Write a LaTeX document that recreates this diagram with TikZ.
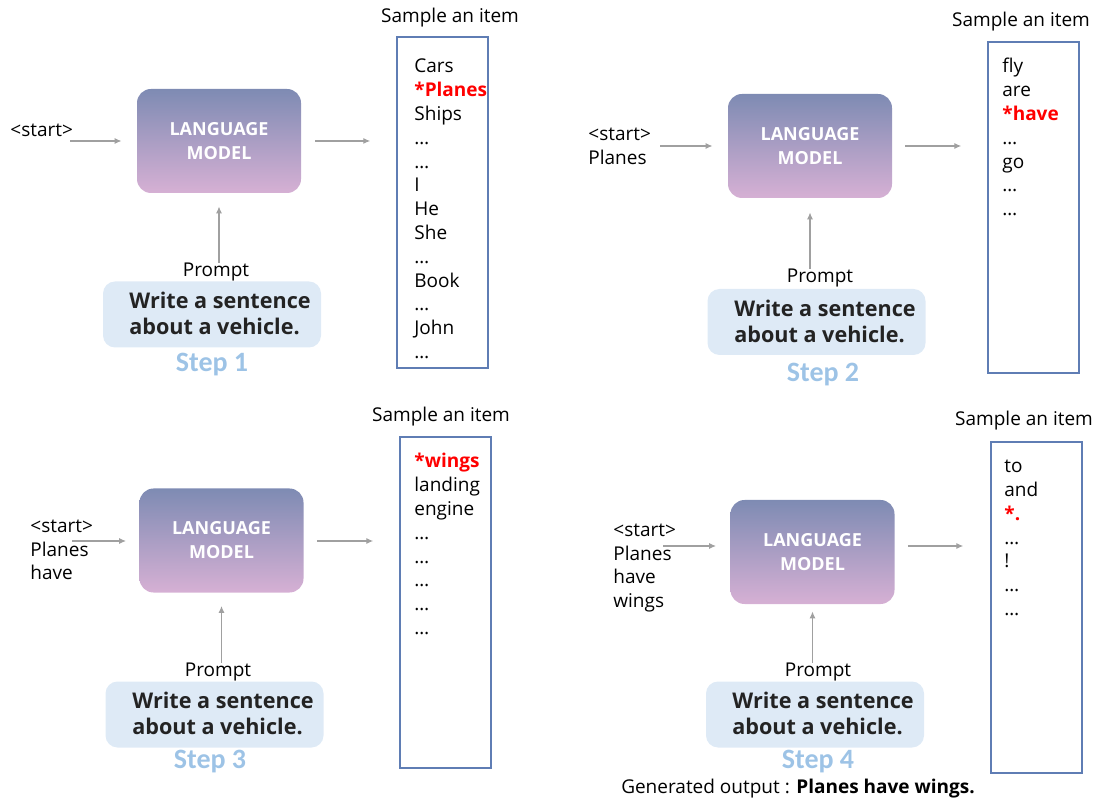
\documentclass[tikz,border=0pt]{standalone}
\usepackage{fontspec}
\setmainfont{Open Sans}
\newfontfamily\stepfont{Carlito}
\usetikzlibrary{arrows.meta,positioning}

\definecolor{lmtop}{RGB}{126,139,179}
\definecolor{lmbot}{RGB}{214,176,212}
\definecolor{promptfill}{RGB}{222,234,246}
\definecolor{promptink}{RGB}{35,35,35}
\definecolor{stepblue}{RGB}{157,195,230}
\definecolor{boxline}{RGB}{95,125,180}
\definecolor{flowgray}{RGB}{160,160,160}
\definecolor{pickred}{RGB}{255,0,0}

\tikzset{
  model/.style={rectangle, rounded corners=7pt, top color=lmtop, bottom color=lmbot,
    minimum width=82pt, minimum height=52pt, text=white, align=center,
    font=\bfseries\fontsize{9}{12}\selectfont},
  promptbox/.style={rectangle, rounded corners=6pt, fill=promptfill, minimum width=109pt,
    minimum height=33pt},
  prompt/.style={inner sep=0pt, align=left, text=promptink,
    font=\bfseries\fontsize{10.8}{13}\selectfont},
  tag/.style={inner sep=0pt, font=\fontsize{9.5}{11.85}\selectfont},
  context/.style={tag, anchor=west, align=left},
  word/.style={tag, anchor=west, text height=1.6ex, text depth=.3ex},
  pick/.style={word, text=pickred, font=\bfseries\fontsize{9.5}{11.85}\selectfont},
  itembox/.style={draw=boxline, line width=0.7pt, minimum width=45.5pt, minimum height=165.5pt},
  steplabel/.style={text=stepblue, font=\stepfont\bfseries\fontsize{14}{16}\selectfont},
  flow/.style={draw=flowgray, line width=0.6pt, -{Latex[length=3.5pt,width=3pt]}},
}

\begin{document}
\begin{tikzpicture}[x=0.5pt, y=-0.5pt]
  \useasboundingbox (0,0) rectangle (1097,801);

  % step 1
  \node[context] (in1) at (10,130) {<start>};
  \coordinate (s1) at (70,141);
  \node[model] (lm1) at (219,141) {LANGUAGE\\MODEL};
  \node[itembox] (box1) at (442.5,202.5) {};
  \node[tag] (head1) at (450,18) {Sample an item};
  \foreach \w/\s [count=\i from 0] in {Cars/word, *Planes/pick, Ships/word, …/word, …/word, I/word, He/word, She/word, …/word, Book/word, …/word, John/word, …/word}
    \node[\s] (w1-\i) at (414, 66+23.8*\i) {\w};
  \node[tag] (lab1) at (216,272) {Prompt};
  \node[promptbox] (pb1) at (212,314.5) {};
  \node[prompt] (p1) at (220,313.5) {Write a sentence\\about a vehicle.};
  \node[steplabel] (step1) at (212,365) {Step 1};
  \draw[flow, shorten >=7.5pt] (s1) -- (s1 -| lm1.west);
  \draw[flow, shorten <=7pt, shorten >=13pt] (lm1.east |- s1) -- (box1.west |- s1);
  \draw[flow, shorten >=6.5pt] (lm1.south |- lab1.north) -- (lm1.south);

  % step 2
  \node[context] (in2) at (588,146.5) {<start>\\Planes};
  \coordinate (s2) at (660,146);
  \node[model] (lm2) at (810,146) {LANGUAGE\\MODEL};
  \node[itembox] (box2) at (1033.5,207.5) {};
  \node[tag] (head2) at (1021,22) {Sample an item};
  \foreach \w/\s [count=\i from 0] in {fly/word, are/word, *have/pick, …/word, go/word, …/word, …/word}
    \node[\s] (w2-\i) at (1002, 66+23.8*\i) {\w};
  \node[tag] (lab2) at (820,278) {Prompt};
  \node[promptbox] (pb2) at (816.5,322) {};
  \node[prompt] (p2) at (825,321) {Write a sentence\\about a vehicle.};
  \node[steplabel] (step2) at (823,375) {Step 2};
  \draw[flow, shorten >=7.5pt] (s2) -- (s2 -| lm2.west);
  \draw[flow, shorten <=6.5pt, shorten >=13pt] (lm2.east |- s2) -- (box2.west |- s2);
  \draw[flow, shorten >=7pt] (lm2.south |- lab2.north) -- (lm2.south);

  % step 3
  \node[context] (in3) at (30,550) {<start>\\Planes\\have};
  \coordinate (s3) at (72,541);
  \node[model] (lm3) at (221.5,540.5) {LANGUAGE\\MODEL};
  \node[itembox] (box3) at (445.5,602.5) {};
  \node[tag] (head3) at (441,417) {Sample an item};
  \foreach \w/\s [count=\i from 0] in {*wings/pick, landing/word, engine/word, …/word, …/word, …/word, …/word, …/word}
    \node[\s] (w3-\i) at (414, 461+23.8*\i) {\w};
  \node[tag] (lab3) at (218,672) {Prompt};
  \node[promptbox] (pb3) at (214.5,714.5) {};
  \node[prompt] (p3) at (223,713.5) {Write a sentence\\about a vehicle.};
  \node[steplabel] (step3) at (210,762) {Step 3};
  \draw[flow, shorten >=6.5pt] (s3) -- (s3 -| lm3.west);
  \draw[flow, shorten <=6.5pt, shorten >=13pt] (lm3.east |- s3) -- (box3.west |- s3);
  \draw[flow, shorten >=6.5pt] (lm3.south |- lab3.north) -- (lm3.south);

  % step 4
  \node[context] (in4) at (613,568) {<start>\\Planes\\have\\wings};
  \coordinate (s4) at (663,546);
  \node[model] (lm4) at (812.5,552) {LANGUAGE\\MODEL};
  \node[itembox] (box4) at (1036.5,607.5) {};
  \node[tag] (head4) at (1024,421) {Sample an item};
  \foreach \w/\s [count=\i from 0] in {to/word, and/word, *./pick, …/word, !/word, …/word, …/word}
    \node[\s] (w4-\i) at (1004, 466+23.7*\i) {\w};
  \node[tag] (lab4) at (818,672) {Prompt};
  \node[promptbox] (pb4) at (815,714.5) {};
  \node[prompt] (p4) at (823,713.5) {Write a sentence\\about a vehicle.};
  \node[steplabel] (step4) at (818,762) {Step 4};
  \node[tag] (result) at (798,789) {Generated output : \textbf{Planes have wings.}};
  \draw[flow, shorten >=7pt] (s4) -- (s4 -| lm4.west);
  \draw[flow, shorten <=6.5pt, shorten >=13.5pt] (lm4.east |- s4) -- (box4.west |- s4);
  \draw[flow, shorten >=3.5pt] (lm4.south |- lab4.north) -- (lm4.south);
\end{tikzpicture}
\end{document}
